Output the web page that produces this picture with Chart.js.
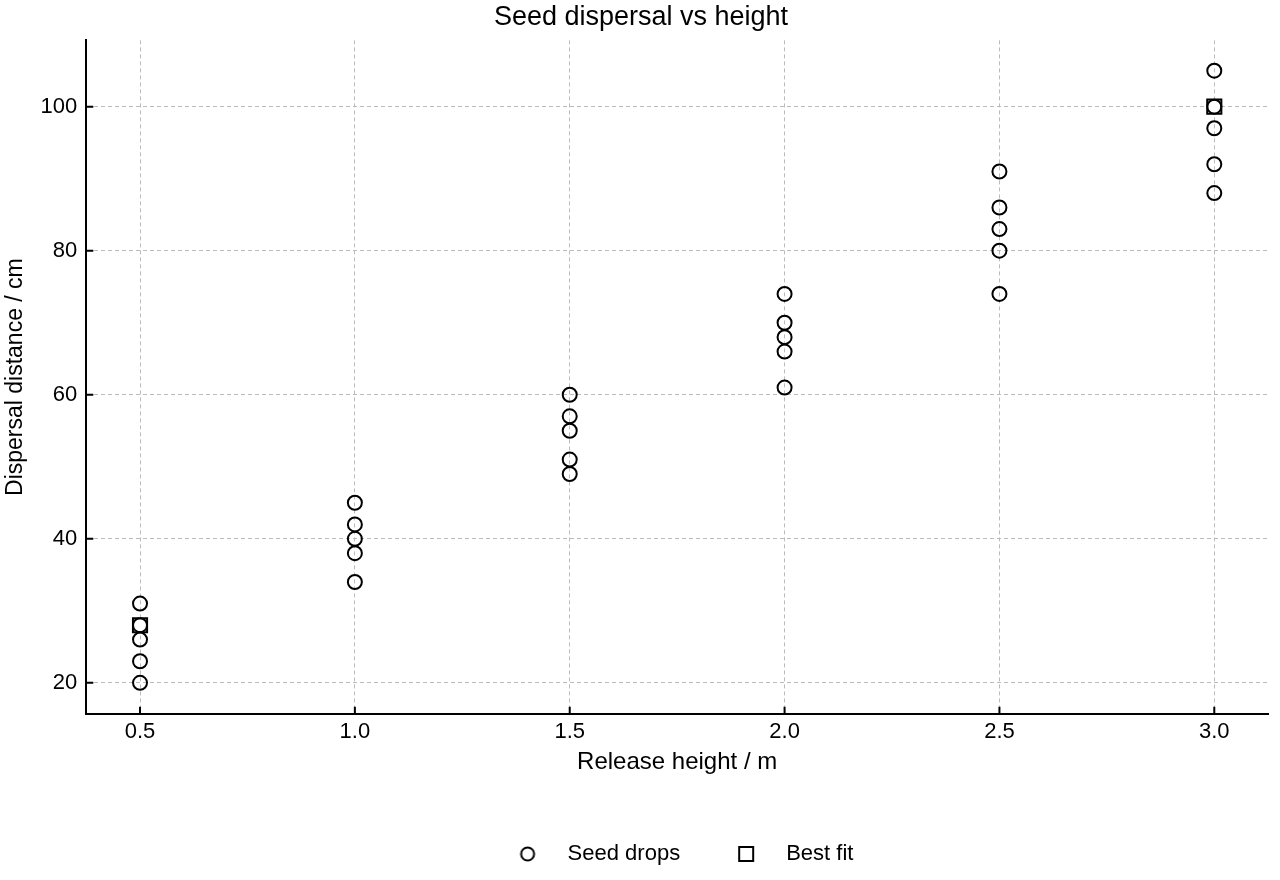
<!DOCTYPE html>
<html lang="en">
<head>
    <meta charset="UTF-8">
    <title>Seed dispersal vs height</title>
    <script src="https://cdn.jsdelivr.net/npm/chart.js"></script>
    <style>
        html, body { margin: 0; padding: 0; background: #fff; }
        #wrap { width: 1280px; height: 880px; position: relative; }
    </style>
</head>
<body>
    <div id="wrap"><canvas id="grafico"></canvas></div>

    <script>
        // Datos
        const alturas = [0.5, 1.0, 1.5, 2.0, 2.5, 3.0];
        const distancias = [
            [31, 28, 26, 23, 20],
            [45, 42, 40, 38, 34],
            [60, 57, 55, 51, 49],
            [74, 70, 68, 66, 61],
            [91, 86, 83, 80, 74],
            [105, 100, 97, 92, 88]
        ];
        const ajusteX = [0.5, 3.0];
        const ajusteY = [28, 100];
        const ticksX = [0.5, 1.0, 1.5, 2.0, 2.5, 3.0];
        const ticksY = [20, 40, 60, 80, 100];

        const puntos = [];
        alturas.forEach((h, i) => distancias[i].forEach(d => puntos.push({ x: h, y: d })));
        const ajuste = ajusteX.map((x, i) => ({ x: x, y: ajusteY[i] }));

        const fuente = "'Liberation Sans', Arial, sans-serif";

        // marcadores pequeños para la leyenda
        function marcador(tipo) {
            const c = document.createElement('canvas');
            c.width = 20; c.height = 20;
            const g = c.getContext('2d');
            g.strokeStyle = '#000';
            g.lineWidth = 2;
            if (tipo === 'circle') {
                g.beginPath();
                g.arc(10, 10, 6.5, 0, Math.PI * 2);
                g.stroke();
            } else {
                g.strokeRect(3, 3, 14, 14);
            }
            return c;
        }

        // ticks hacia dentro + leyenda un poco a la derecha
        const ticksDentro = {
            id: 'ticksDentro',
            afterLayout(chart) {
                chart.legend.left += 35;
                chart.legend.right += 35;
            },
            afterDatasetsDraw(chart) {
                const ctx = chart.ctx;
                const xs = chart.scales.x, ys = chart.scales.y;
                ctx.save();
                ctx.strokeStyle = '#000';
                ctx.lineWidth = 2;
                ctx.beginPath();
                xs.ticks.forEach(t => {
                    const px = xs.getPixelForValue(t.value);
                    ctx.moveTo(px, ys.bottom);
                    ctx.lineTo(px, ys.bottom - 7);
                });
                ys.ticks.forEach(t => {
                    const py = ys.getPixelForValue(t.value);
                    ctx.moveTo(xs.left, py);
                    ctx.lineTo(xs.left + 7, py);
                });
                ctx.stroke();
                ctx.restore();
            }
        };

        const ctx = document.getElementById('grafico').getContext('2d');
        const grafico = new Chart(ctx, {
            type: 'scatter',
            data: {
                datasets: [{
                    label: 'Seed drops',
                    data: puntos,
                    pointStyle: 'circle',
                    pointRadius: 7,
                    pointHoverRadius: 7,
                    borderColor: '#000',
                    backgroundColor: 'rgba(0,0,0,0)',
                    pointBorderWidth: 2
                }, {
                    label: 'Best fit',
                    data: ajuste,
                    pointStyle: 'rect',
                    pointRadius: 10,
                    pointHoverRadius: 10,
                    borderColor: '#000',
                    backgroundColor: '#fff',
                    pointBorderWidth: 2,
                    showLine: false
                }]
            },
            options: {
                responsive: true,
                maintainAspectRatio: false,
                animation: false,
                layout: { padding: { left: 2, right: 0, top: 0, bottom: 5 } },
                plugins: {
                    title: {
                        display: true,
                        text: 'Seed dispersal vs height',
                        color: '#000',
                        font: { family: fuente, size: 27, weight: 'normal' },
                        padding: { top: 1, bottom: 7 }
                    },
                    legend: {
                        position: 'bottom',
                        labels: {
                            usePointStyle: true,
                            boxWidth: 58,
                            boxHeight: 22,
                            pointStyleWidth: 58,
                            color: '#000',
                            font: { family: fuente, size: 22 },
                            padding: 37,
                            generateLabels: chart => chart.data.datasets.map((ds, i) => ({
                                text: ds.label,
                                pointStyle: marcador(ds.pointStyle),
                                fontColor: '#000',
                                strokeStyle: '#000',
                                fillStyle: 'rgba(0,0,0,0)',
                                lineWidth: 0,
                                hidden: false,
                                datasetIndex: i
                            }))
                        }
                    },
                    tooltip: { enabled: false }
                },
                scales: {
                    x: {
                        type: 'linear',
                        min: 0.375,
                        max: 3.125,
                        afterBuildTicks: s => { s.ticks = ticksX.map(v => ({ value: v })); },
                        afterFit: s => { s.paddingRight = 4; },
                        ticks: {
                            color: '#000',
                            font: { family: fuente, size: 22 },
                            padding: 5,
                            callback: v => v.toFixed(1)
                        },
                        grid: { color: '#bbb', drawTicks: false },
                        border: { color: '#000', width: 2, dash: [4, 3] },
                        title: {
                            display: true,
                            text: 'Release height / m',
                            color: '#000',
                            font: { family: fuente, size: 24 },
                            padding: { top: -2, bottom: 29 }
                        }
                    },
                    y: {
                        type: 'linear',
                        min: 15.7,
                        max: 109.2,
                        afterBuildTicks: s => { s.ticks = ticksY.map(v => ({ value: v })); },
                        ticks: {
                            color: '#000',
                            font: { family: fuente, size: 22 },
                            padding: 9
                        },
                        grid: { color: '#bbb', drawTicks: false },
                        border: { color: '#000', width: 2, dash: [4, 3] },
                        title: {
                            display: true,
                            text: 'Dispersal distance / cm',
                            color: '#000',
                            font: { family: fuente, size: 23 },
                            padding: { top: 0, bottom: 2 }
                        }
                    }
                }
            },
            plugins: [ticksDentro]
        });
    </script>
</body>
</html>
